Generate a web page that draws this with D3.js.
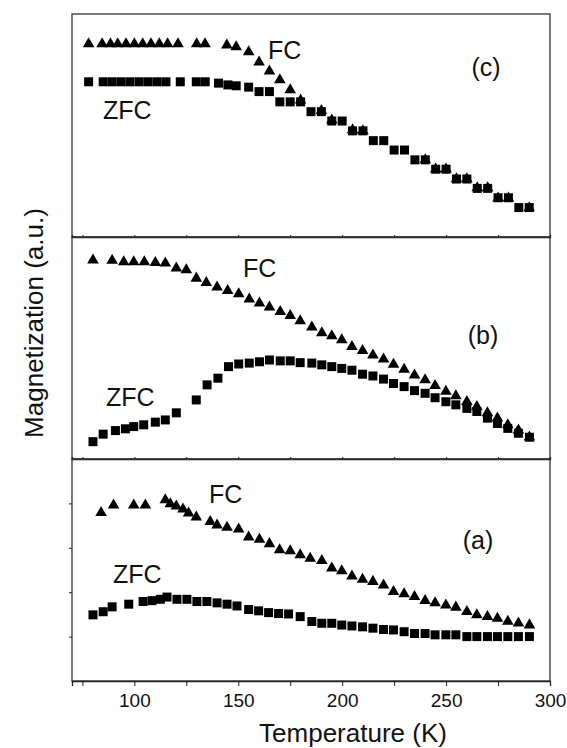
<!DOCTYPE html>
<html>
<head>
<meta charset="utf-8">
<script src="https://cdn.jsdelivr.net/npm/d3@7"></script>
<style>
  body { margin: 0; background: #fff; }
  text { font-family: "Liberation Sans", Arial, sans-serif; fill: #111; }
  .axis path, .axis line { stroke: #222; }
</style>
</head>
<body>
<svg id="chart" width="567" height="748"></svg>
<script>
// temperature ticks
var majorTicks = [100, 150, 200, 250, 300];
var minorTicks = [75, 125, 175, 225, 275];
var leftTicks = [1, 2, 3, 4];

// panel (a)
var fcA_T = [84, 90, 99.7, 105.3, 114.9, 117.3, 120.2, 123.4, 126.1, 129.8, 136.5, 139.8, 144.6, 150.2, 155, 160.2, 165, 169.9, 175, 179.8, 184.6, 190.2, 195, 199.8, 204.7, 209.8, 214.8, 219.9, 224.7, 229.8, 234.8, 239.9, 244.7, 249.9, 254.7, 260, 264.8, 269.9, 274.7, 279.7, 284.8, 290.1];
var fcA_M = [3.79, 3.96, 3.96, 3.96, 4.08, 3.99, 3.94, 3.87, 3.78, 3.69, 3.59, 3.51, 3.46, 3.42, 3.24, 3.19, 3.09, 2.95, 2.93, 2.84, 2.76, 2.71, 2.54, 2.48, 2.36, 2.29, 2.24, 2.16, 2.01, 1.96, 1.90, 1.81, 1.76, 1.71, 1.66, 1.56, 1.49, 1.45, 1.41, 1.34, 1.30, 1.26];
var zfcA_T = [80.1, 85, 89.3, 97.3, 104.2, 108.5, 112.5, 115.7, 120.5, 125.3, 130.1, 134.9, 139.8, 144.6, 149.4, 155, 159.8, 164.6, 169.4, 174.2, 179.8, 185.4, 190.2, 195, 199.8, 204.7, 209.8, 214.8, 219.9, 224.7, 229.8, 234.8, 239.9, 244.7, 249.9, 254.7, 260, 264.8, 269.9, 274.7, 279.7, 284.8, 290.1];
var zfcA_M = [1.49, 1.56, 1.67, 1.73, 1.79, 1.81, 1.84, 1.89, 1.84, 1.84, 1.79, 1.79, 1.76, 1.73, 1.69, 1.61, 1.58, 1.54, 1.52, 1.51, 1.45, 1.34, 1.30, 1.30, 1.26, 1.24, 1.22, 1.19, 1.16, 1.15, 1.11, 1.07, 1.07, 1.04, 1.04, 1.04, 1.00, 1.00, 1.00, 1.00, 1.00, 1.00, 1.00];

// panel (b)
var fcB_T = [80.1, 89.3, 94.9, 99.7, 104.8, 110.1, 114.9, 120.2, 125, 129.8, 134.6, 139.8, 144.9, 150.2, 155.3, 160.2, 165, 170.2, 175, 179.8, 185.4, 190.2, 195, 199.8, 204.7, 209.8, 214.8, 219.9, 224.7, 229.8, 234.8, 239.9, 244.7, 249.9, 254.7, 260, 264.8, 269.9, 274.7, 279.7, 284.8, 290.1];
var fcB_M = [4.48, 4.47, 4.44, 4.44, 4.44, 4.42, 4.41, 4.30, 4.26, 4.07, 3.97, 3.87, 3.79, 3.72, 3.60, 3.51, 3.42, 3.32, 3.23, 3.11, 2.97, 2.84, 2.77, 2.68, 2.53, 2.44, 2.34, 2.25, 2.13, 2.02, 1.89, 1.78, 1.65, 1.52, 1.42, 1.29, 1.18, 1.04, 0.92, 0.77, 0.65, 0.49];
var zfcB_T = [80.1, 85, 90.9, 95.7, 99.7, 104.5, 110.1, 114.9, 120.2, 129.8, 135, 140.2, 145.3, 150.2, 155.3, 160.2, 165, 170.2, 175, 179.8, 185.4, 190.2, 195, 199.8, 204.7, 209.8, 214.8, 219.9, 224.7, 229.8, 234.8, 239.9, 244.7, 249.9, 254.7, 260, 264.8, 269.9, 274.7, 279.7, 284.8, 290.1];
var zfcB_M = [0.39, 0.56, 0.64, 0.68, 0.73, 0.77, 0.83, 0.88, 1.04, 1.33, 1.67, 1.82, 2.08, 2.14, 2.16, 2.19, 2.23, 2.21, 2.21, 2.17, 2.16, 2.12, 2.08, 2.04, 2.00, 1.91, 1.87, 1.80, 1.70, 1.63, 1.54, 1.48, 1.38, 1.29, 1.22, 1.14, 1.07, 0.92, 0.80, 0.69, 0.58, 0.49];

// panel (c)
var fcC_T = [78, 84.5, 88.5, 92, 96, 100, 104, 108, 112, 116, 121, 130, 134, 144.5, 149, 155, 160, 165, 170, 175, 180, 190, 195, 205, 210, 240, 245, 250, 255, 260, 265, 270, 275, 280, 290];
var fcC_M = [4.33, 4.33, 4.33, 4.33, 4.33, 4.33, 4.33, 4.33, 4.33, 4.33, 4.33, 4.33, 4.33, 4.30, 4.26, 4.15, 3.92, 3.72, 3.52, 3.30, 3.07, 2.83, 2.62, 2.40, 2.38, 1.73, 1.52, 1.52, 1.30, 1.30, 1.10, 1.10, 0.87, 0.87, 0.65];
var zfcC_T = [78, 85, 89.3, 93.6, 97.9, 102.3, 106.6, 110.9, 115.2, 122.1, 129.8, 134.1, 140.5, 145, 149, 155, 160, 165, 170, 175, 180, 185, 190, 195, 200, 205, 210, 215, 220, 225, 230, 235, 240, 245, 250, 255, 260, 265, 270, 275, 280, 285, 290];
var zfcC_M = [3.48, 3.48, 3.48, 3.48, 3.48, 3.48, 3.48, 3.48, 3.48, 3.48, 3.48, 3.48, 3.45, 3.41, 3.39, 3.36, 3.26, 3.26, 3.03, 3.03, 3.03, 2.81, 2.81, 2.60, 2.60, 2.38, 2.38, 2.16, 2.16, 1.95, 1.95, 1.73, 1.73, 1.52, 1.52, 1.30, 1.30, 1.09, 1.09, 0.88, 0.88, 0.66, 0.66];

var svg = d3.select("#chart"),
    left = 72, right = 550,
    bounds = [14, 237, 459, 681]; // panel edges top to bottom

var x = d3.scaleLinear().domain([70, 300]).range([left, right]);

var panels = [
  {name: "(c)", top: bounds[0], bottom: bounds[1], fcT: fcC_T, fcM: fcC_M, zfcT: zfcC_T, zfcM: zfcC_M,
   lab: [486, 3.6], fc: [268, 4.0], zfc: [103, 2.65]},
  {name: "(b)", top: bounds[1], bottom: bounds[2], fcT: fcB_T, fcM: fcB_M, zfcT: zfcB_T, zfcM: zfcB_M,
   lab: [483, 2.6], fc: [243, 4.1], zfc: [106, 1.2]},
  {name: "(a)", top: bounds[2], bottom: bounds[3], fcT: fcA_T, fcM: fcA_M, zfcT: zfcA_T, zfcM: zfcA_M,
   lab: [478, 2.97], fc: [209, 4.0], zfc: [113, 2.21]}
];

var square = d3.symbol().type(d3.symbolSquare).size(81),
    triangle = d3.symbol().type(d3.symbolTriangle).size(58);

panels.forEach(function(p, i) {
  var y = d3.scaleLinear().domain([0, 5]).range([p.bottom, p.top]);
  var g = svg.append("g");

  g.append("rect")
    .attr("x", left).attr("y", p.top)
    .attr("width", right - left).attr("height", p.bottom - p.top)
    .attr("fill", "none").attr("stroke", "#333").attr("stroke-width", 1.3);

  // bottom axis
  var isLast = i === panels.length - 1;
  var xa = d3.axisBottom(x)
    .tickValues(minorTicks.concat(majorTicks))
    .tickSize(isLast ? 5 : -2)
    .tickFormat(function(d) { return isLast && majorTicks.indexOf(d) >= 0 ? d : ""; });
  var ax = g.append("g").attr("class", "axis")
    .attr("transform", "translate(0," + p.bottom + ")")
    .call(xa);
  ax.select(".domain").attr("stroke-width", 1.3);
  ax.selectAll("text").attr("font-size", 19).attr("dy", "0.95em").style("fill", "#111");

  if (isLast) {
    g.append("g").attr("class", "axis")
      .attr("transform", "translate(" + left + ",0)")
      .call(d3.axisLeft(y).tickValues(leftTicks).tickSize(3).tickFormat(""))
      .select(".domain").remove();
  }

  var zfc = d3.zip(p.zfcT, p.zfcM), fc = d3.zip(p.fcT, p.fcM);
  g.selectAll(".zfc").data(zfc).enter().append("path")
    .attr("d", square)
    .attr("transform", function(d) { return "translate(" + x(d[0]) + "," + y(d[1]) + ")"; })
    .attr("fill", "#000");
  g.selectAll(".fc").data(fc).enter().append("path")
    .attr("d", triangle)
    .attr("transform", function(d) { return "translate(" + x(d[0]) + "," + y(d[1]) + ")"; })
    .attr("fill", "#000");

  g.append("text").attr("x", p.lab[0]).attr("y", y(p.lab[1]))
    .attr("font-size", 25).attr("text-anchor", "middle").text(p.name);
  g.append("text").attr("x", p.fc[0]).attr("y", y(p.fc[1]))
    .attr("font-size", 25).text("FC");
  g.append("text").attr("x", p.zfc[0]).attr("y", y(p.zfc[1]))
    .attr("font-size", 25).text("ZFC");
});

svg.append("text")
  .attr("x", (left + right) / 2 + 42).attr("y", 742)
  .attr("text-anchor", "middle").attr("font-size", 26)
  .text("Temperature (K)");

svg.append("text")
  .attr("transform", "translate(43,323) rotate(-90)")
  .attr("text-anchor", "middle").attr("font-size", 26)
  .text("Magnetization (a.u.)");
</script>
</body>
</html>
